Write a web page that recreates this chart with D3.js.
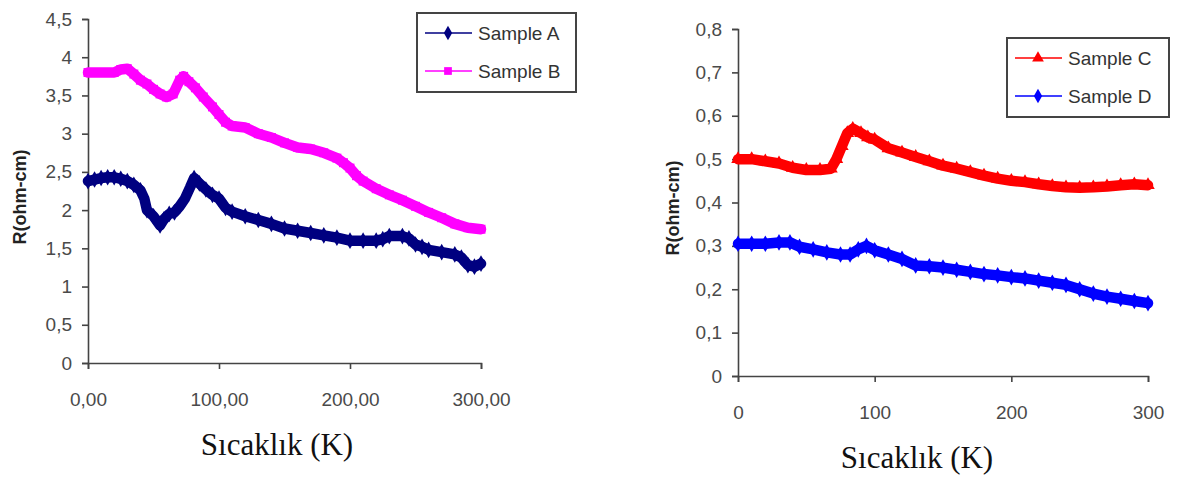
<!DOCTYPE html>
<html>
<head>
<meta charset="utf-8">
<script src="https://cdn.jsdelivr.net/npm/d3@7"></script>
<style>
  body { margin: 0; background: #fff; }
  .tick text { font-family: Arial, "Liberation Sans", sans-serif; font-size: 19px; fill: #4a4a4a; }
  .domain, .tick line { stroke: #444; stroke-width: 1.6px; }
  .ytitle { font-family: Arial, "Liberation Sans", sans-serif; font-weight: bold; font-size: 18px; fill: #222; }
  .xtitle { font-family: "Liberation Serif", "Times New Roman", serif; font-size: 31px; fill: #111; }
  .legtext { font-family: Arial, "Liberation Sans", sans-serif; font-size: 19px; fill: #333; }
</style>
</head>
<body>
<svg id="chart" width="1177" height="483"></svg>
<script>
// left panel
const tempsA = [0,5,10,15,20,25,30,35,40,43,45,50,55,58,62,66,70,74,78,81,85,90,95,100,105,110,120,130,140,150,160,170,180,190,200,210,220,225,230,240,245,250,255,260,270,280,285,290,295,300];
const sampleA = [2.38,2.40,2.42,2.43,2.43,2.41,2.38,2.33,2.26,2.15,2.0,1.92,1.8,1.88,1.95,1.97,2.05,2.15,2.30,2.42,2.35,2.27,2.2,2.15,2.03,1.98,1.92,1.87,1.82,1.76,1.73,1.70,1.67,1.64,1.60,1.60,1.60,1.62,1.66,1.66,1.63,1.55,1.52,1.48,1.45,1.42,1.38,1.28,1.26,1.30];
const tempsB = [0,5,10,15,20,25,30,35,40,45,50,55,60,65,70,73,77,82,88,95,100,105,110,120,130,140,150,160,170,180,190,195,200,205,210,220,230,240,250,260,270,280,290,300];
const sampleB = [3.80,3.80,3.80,3.80,3.80,3.84,3.85,3.78,3.70,3.65,3.58,3.52,3.48,3.52,3.70,3.75,3.68,3.60,3.48,3.35,3.25,3.15,3.10,3.08,3.00,2.95,2.88,2.82,2.80,2.75,2.68,2.62,2.55,2.45,2.38,2.28,2.20,2.13,2.05,1.97,1.90,1.82,1.77,1.75];
// right panel
const tempsC = [0,10,20,30,40,50,60,68,72,76,80,84,90,95,100,110,120,130,140,150,160,170,180,190,200,210,220,230,240,250,260,270,280,290,300];
const sampleC = [0.50,0.50,0.495,0.49,0.48,0.475,0.475,0.478,0.50,0.53,0.56,0.57,0.56,0.55,0.545,0.525,0.515,0.505,0.495,0.485,0.478,0.47,0.462,0.455,0.45,0.447,0.442,0.438,0.435,0.434,0.435,0.437,0.44,0.442,0.44];
const tempsD = [0,10,20,30,38,45,55,65,75,82,88,94,100,110,120,130,140,150,160,170,180,190,200,210,220,230,240,250,260,270,280,290,300];
const sampleD = [0.305,0.305,0.305,0.308,0.308,0.298,0.292,0.285,0.28,0.28,0.292,0.30,0.29,0.28,0.27,0.255,0.253,0.25,0.245,0.24,0.235,0.232,0.228,0.225,0.22,0.215,0.21,0.20,0.19,0.183,0.178,0.173,0.168];

const xTicks = [0, 100, 200, 300];
const leftYTicks = [0, 0.5, 1, 1.5, 2, 2.5, 3, 3.5, 4, 4.5];
const rightYTicks = [0, 0.1, 0.2, 0.3, 0.4, 0.5, 0.6, 0.7, 0.8];

const loc = d3.formatLocale({decimal: ",", thousands: ".", grouping: [3], currency: ["", ""]});
const svg = d3.select("#chart");

const panels = [
  {x: [88, 481], y: [363, 19], ymax: 4.5, yticks: leftYTicks,
   xfmt: loc.format(".2f"), yfmt: d => loc.format("~g")(d),
   series: [
     {name: "Sample A", t: tempsA, v: sampleA, color: "#000080", sym: d3.symbolDiamond},
     {name: "Sample B", t: tempsB, v: sampleB, color: "#ff00ff", sym: d3.symbolSquare}],
   legend: {x: 417, y: 13, w: 159, h: 79},
   ytitle: {x: 20, y: 197}, xtitle: {x: 277, y: 455}},
  {x: [738, 1148], y: [376, 29], ymax: 0.8, yticks: rightYTicks,
   xfmt: d3.format("d"), yfmt: d => loc.format("~g")(d),
   series: [
     {name: "Sample C", t: tempsC, v: sampleC, color: "#ff0000", sym: d3.symbolTriangle},
     {name: "Sample D", t: tempsD, v: sampleD, color: "#0000ff", sym: d3.symbolDiamond}],
   legend: {x: 1007, y: 38, w: 162, h: 79},
   ytitle: {x: 673, y: 208}, xtitle: {x: 917, y: 468}}
];

panels.forEach(p => {
  const x = d3.scaleLinear().domain([0, 300]).range(p.x);
  const y = d3.scaleLinear().domain([0, p.ymax]).range(p.y);
  const g = svg.append("g");

  g.append("g").attr("transform", `translate(0,${p.y[0]})`)
    .call(d3.axisBottom(x).tickValues(xTicks).tickFormat(p.xfmt).tickSize(6).tickPadding(24));
  g.append("g").attr("transform", `translate(${p.x[0]},0)`)
    .call(d3.axisLeft(y).tickValues(p.yticks).tickFormat(p.yfmt).tickSize(6).tickPadding(10));

  p.series.forEach(s => {
    const pts = s.t.map((t, i) => [t, s.v[i]]);
    g.append("path").datum(pts)
      .attr("fill", "none").attr("stroke", s.color).attr("stroke-width", 10.5)
      .attr("stroke-linejoin", "round").attr("stroke-linecap", "round")
      .attr("d", d3.line().x(d => x(d[0])).y(d => y(d[1])));
    g.selectAll(null).data(pts).join("path")
      .attr("transform", d => `translate(${x(d[0])},${y(d[1])})`)
      .attr("d", d3.symbol(s.sym, 80))
      .attr("fill", s.color);
  });

  // legend
  const L = p.legend;
  g.append("rect").attr("x", L.x).attr("y", L.y).attr("width", L.w).attr("height", L.h)
    .attr("fill", "#fff").attr("stroke", "#444").attr("stroke-width", 2);
  p.series.forEach((s, i) => {
    const ly = L.y + 20 + i * 38;
    g.append("line").attr("x1", L.x + 8).attr("x2", L.x + 55).attr("y1", ly).attr("y2", ly)
      .attr("stroke", s.color).attr("stroke-width", 1.5);
    g.append("path").attr("transform", `translate(${L.x + 31},${ly})`)
      .attr("d", d3.symbol(s.sym, 60)).attr("fill", s.color);
    g.append("text").attr("class", "legtext").attr("x", L.x + 61).attr("y", ly + 7).text(s.name);
  });

  g.append("text").attr("class", "ytitle")
    .attr("transform", `translate(${p.ytitle.x},${p.ytitle.y}) rotate(-90)`)
    .attr("text-anchor", "middle").attr("dy", "0.35em").text("R(ohm-cm)");
  g.append("text").attr("class", "xtitle")
    .attr("x", p.xtitle.x).attr("y", p.xtitle.y).attr("text-anchor", "middle").text("Sıcaklık (K)");
});
</script>
</body>
</html>
